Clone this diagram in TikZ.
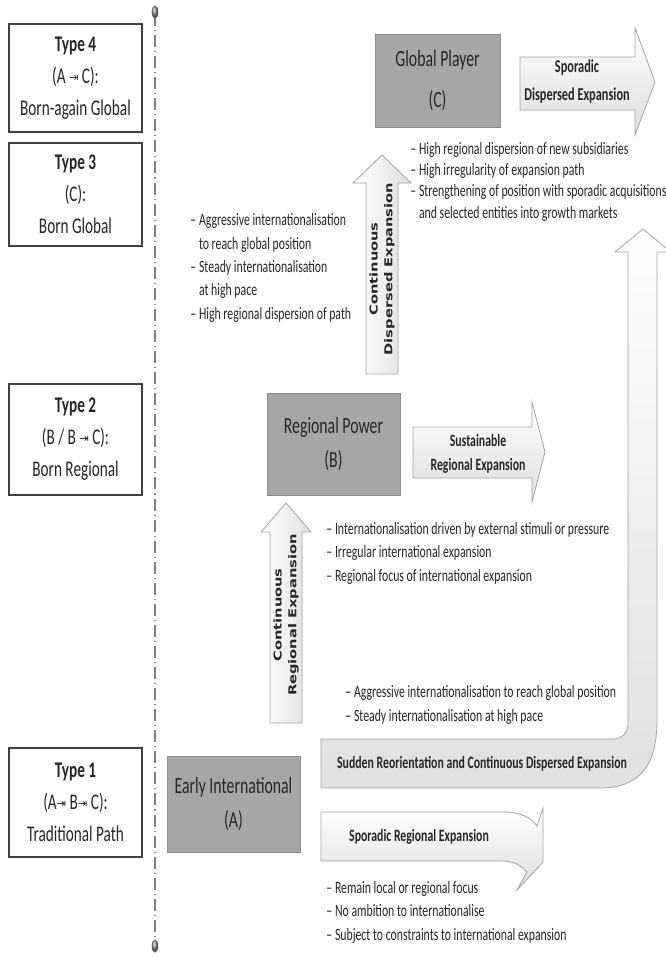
\documentclass[tikz,border=0pt]{standalone}
\usepackage{fontspec}
\setmainfont{Carlito}[FakeStretch=0.68]
\newfontfamily\vfont{DejaVu Sans}
\newfontfamily\symf{DejaVu Sans}
\definecolor{txt}{HTML}{262626}
\definecolor{boxgray}{HTML}{A6A6A6}
\definecolor{boxedge}{HTML}{8C8C8C}
\definecolor{arredge}{HTML}{A3A3A3}
\definecolor{linegray}{HTML}{7F7F7F}
\newcommand\tobar{{\symf\fontsize{8.5}{8.5}\selectfont\raisebox{1.5pt}{⇥}}}
\begin{document}
\begin{tikzpicture}[x=0.75pt,y=-0.75pt,
  typebox/.style={draw=black!75, line width=1.3pt, fill=white, text=txt, align=center,
    font=\fontsize{16.8}{24}\selectfont, inner sep=0pt, minimum width=99.75pt},
  graybox/.style={draw=boxedge, line width=0.6pt, fill=boxgray, text=txt, align=center,
    font=\fontsize{17.4}{26}\selectfont, inner sep=0pt},
  body/.style={text=txt, align=left, inner sep=0pt, font=\fontsize{13}{17.5}\selectfont},
  hlab/.style={text=txt, align=center, inner sep=0pt, font=\bfseries\fontsize{13}{18}\selectfont},
  vlab/.style={text=txt, inner sep=0pt, rotate=90, font=\vfont\bfseries\fontsize{11}{15}\selectfont},
  harrow/.style={draw=arredge, line width=0.6pt, top color=white, bottom color=black!13},
  varrow/.style={draw=arredge, line width=0.6pt, left color=white, right color=black!12},
]
\useasboundingbox (0,0) rectangle (665,958);
\fill[white] (0,0) rectangle (665,958);

% timeline
\coordinate (ltop) at (155,14);
\coordinate (lbot) at (155,944);
\draw[linegray, line width=0.8pt, dash pattern=on 9pt off 3pt on 0.8pt off 3pt] (ltop) -- (lbot);
\shade[ball color=black!45] (155,12) ellipse [x radius=3.2, y radius=6.5];
\shade[ball color=black!45] (155,946) ellipse [x radius=3.2, y radius=6.5];

% type boxes
\node[typebox, minimum height=81pt] (t4) at (75.5,78) {\textbf{Type 4}\\(A \tobar\ C):\\Born-again Global};
\node[typebox, minimum height=77.25pt] (t3) at (75.5,194.5) {\textbf{Type 3}\\(C):\\Born Global};
\node[typebox, minimum height=83.25pt] (t2) at (75.5,439.5) {\textbf{Type 2}\\(B / B \tobar\ C):\\Born Regional};
\node[typebox, minimum height=81.75pt] (t1) at (75.5,802.5) {\textbf{Type 1}\\(A\tobar\ B\tobar\ C):\\Traditional Path};

% gray stage boxes
\node[graybox, minimum width=93.75pt, minimum height=69.75pt, font=\fontsize{17.4}{31}\selectfont] (gp) at (437.5,80.5) {Global Player\\(C)};
\node[graybox, minimum width=99.75pt, minimum height=76.5pt] (rp) at (333.5,444) {Regional Power\\(B)};
\node[graybox, minimum width=99.75pt, minimum height=72pt] (ei) at (233.5,804) {Early International\\(A)};

% horizontal arrow: sporadic dispersed
\draw[harrow] (520,57) -- (635,57) -- (635,28) -- (655,82) -- (635,135) -- (635,110) -- (520,110) -- cycle;
\node[hlab, font=\bfseries\fontsize{13.6}{21}\selectfont] (lsd) at (577,82) {Sporadic\\Dispersed Expansion};

% horizontal arrow: sustainable regional
\draw[harrow] (413,427) -- (532,427) -- (532,402) -- (545,452) -- (532,502) -- (532,478) -- (413,478) -- cycle;
\node[hlab] (lsr) at (478,454) {Sustainable\\Regional Expansion};

% vertical arrow A -> B
\draw[varrow] (270,723) -- (270,532) -- (261,532) -- (286,503) -- (311,532) -- (302,532) -- (302,723) -- cycle;
\node[vlab] (lcr) at (286,615) {\scalebox{1}[0.74]{\begin{tabular}{@{}c@{}}Continuous\\Regional Expansion\end{tabular}}};

% vertical arrow B -> C
\draw[varrow] (366,374) -- (366,183) -- (353,183) -- (382,155) -- (411,183) -- (398,183) -- (398,374) -- cycle;
\node[vlab] (lcd) at (382,269) {\scalebox{1}[0.74]{\begin{tabular}{@{}c@{}}Continuous\\Dispersed Expansion\end{tabular}}};

% U arrow A -> C
\draw[draw=arredge, line width=0.6pt, top color=white, bottom color=black!12]
  (321,739) -- (613,739) .. controls (622,739) and (628,733) .. (628,724)
  -- (628,252) -- (615,252) -- (643,229) -- (671,252) -- (657,252)
  -- (657,720) .. controls (657,765) and (640,788) .. (600,788)
  -- (321,788) -- cycle;
\node[hlab] (lsu) at (482,764) {Sudden Reorientation and Continuous Dispersed Expansion};

% curved arrow: sporadic regional
\draw[harrow] (321,812) -- (505,812) .. controls (520,812) and (532,818) .. (537,826)
  -- (543,808) -- (543,862) -- (517,890) -- (527,872)
  .. controls (520,864) and (512,861) .. (500,861) -- (321,861) -- cycle;
\node[hlab] (lsp) at (419,837) {Sporadic Regional Expansion};

% text blocks (anchor = baseline of last line)
\node[body, anchor=base west, font=\fontsize{13}{16}\selectfont] (bc) at (410,218)
  {–\,High regional dispersion of new subsidiaries\\–\,High irregularity of expansion path\\–\,Strengthening of position with sporadic acquisitions\\\phantom{–\,}and selected entities into growth markets};
\node[body, anchor=base west] (bg) at (190,319)
  {–\,Aggressive internationalisation\\\phantom{–\,}to reach global position\\–\,Steady internationalisation\\\phantom{–\,}at high pace\\–\,High regional dispersion of path};
\node[body, anchor=base west] (bb) at (326,581)
  {–\,Internationalisation driven by external stimuli or pressure\\–\,Irregular international expansion\\–\,Regional focus of international expansion};
\node[body, anchor=base west] (bu) at (345,721)
  {–\,Aggressive internationalisation to reach global position\\–\,Steady internationalisation at high pace};
\node[body, anchor=base west] (ba) at (326,940)
  {–\,Remain local or regional focus\\–\,No ambition to internationalise\\–\,Subject to constraints to international expansion};
\end{tikzpicture}
\end{document}
